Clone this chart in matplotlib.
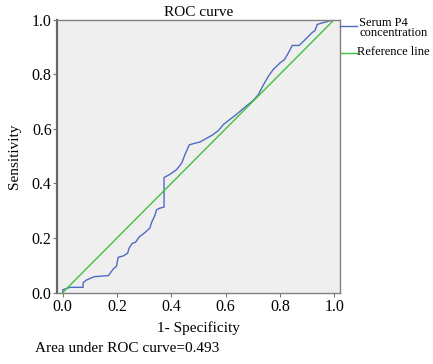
import matplotlib
matplotlib.use("Agg")
import matplotlib.pyplot as plt
from matplotlib.lines import Line2D

# ROC curve points (1 - specificity, sensitivity)
fpr = [0.0, 0.0, 0.027, 0.075, 0.075, 0.088, 0.116, 0.168, 0.186, 0.198, 0.204,
       0.223, 0.239, 0.244, 0.256, 0.268, 0.281, 0.303, 0.321, 0.327, 0.34,
       0.345, 0.358, 0.373, 0.373, 0.395, 0.419, 0.438, 0.45, 0.466, 0.487,
       0.505, 0.524, 0.548, 0.573, 0.591, 0.61, 0.634, 0.665, 0.702, 0.72,
       0.739, 0.757, 0.775, 0.8, 0.816, 0.831, 0.845, 0.87, 0.886, 0.917,
       0.929, 0.937, 0.957, 0.99, 1.0]
tpr = [0.0, 0.01, 0.019, 0.019, 0.036, 0.046, 0.058, 0.062, 0.086, 0.097, 0.129,
       0.134, 0.144, 0.162, 0.18, 0.184, 0.203, 0.22, 0.236, 0.256, 0.284,
       0.303, 0.309, 0.313, 0.421, 0.433, 0.45, 0.474, 0.505, 0.541, 0.547,
       0.551, 0.562, 0.575, 0.593, 0.615, 0.63, 0.648, 0.674, 0.704, 0.725,
       0.761, 0.792, 0.817, 0.841, 0.853, 0.878, 0.905, 0.905, 0.92, 0.951,
       0.96, 0.982, 0.988, 0.997, 1.0]
ref_x = [0.0, 1.0]
ref_y = [0.0, 1.0]
ticks = [0.0, 0.2, 0.4, 0.6, 0.8, 1.0]
tick_labels = ["0.0", "0.2", "0.4", "0.6", "0.8", "1.0"]

plt.rcParams['font.family'] = ['Liberation Serif', 'DejaVu Serif']

fig = plt.figure(figsize=(4.33, 3.64), dpi=100)
ax = fig.add_axes([0.1323, 0.1964, 0.6537, 0.75])
ax.set_facecolor('#efefef')

ax.plot(fpr, tpr, color='#4f6bc0', lw=1.0)
ax.plot(ref_x, ref_y, color='#3ec23e', lw=1.0)

ax.set_xlim(-0.02, 1.022)
ax.set_ylim(0.0, 1.0)
ax.set_xticks(ticks)
ax.set_xticklabels(tick_labels)
ax.set_yticks(ticks)
ax.set_yticklabels(tick_labels)
ax.tick_params(axis='both', labelsize=11.5, length=3, color='#777777', pad=1)
ax.tick_params(axis='x', pad=2)
for s in ax.spines.values():
    s.set_color('#808080')
    s.set_linewidth(1.0)
ax.spines['left'].set_linewidth(1.6)
ax.spines['left'].set_color('#666666')

ax.set_title('ROC curve', fontsize=11, pad=2.5)
ax.set_xlabel('1- Specificity', fontsize=11, labelpad=4)
ax.set_ylabel('Sensitivity', fontsize=11, labelpad=8)

fig.text(35/433, 1 - 349/364, 'Area under ROC curve=0.493', fontsize=11,
         va='center', ha='left')

# legend outside at right
fig.add_artist(Line2D([340/433, 357/433], [1 - 26/364, 1 - 26/364],
                      color='#4f6bc0', lw=1.0))
fig.text(359/433, 1 - 28/364, 'Serum P4\nconcentration', fontsize=9,
         va='center', ha='left', linespacing=0.85)
fig.add_artist(Line2D([341/433, 357/433], [1 - 52.5/364, 1 - 52.5/364],
                      color='#3ec23e', lw=1.0))
fig.text(357/433, 1 - 52/364, 'Reference line', fontsize=9,
         va='center', ha='left')

fig.savefig('out.png', dpi=100)
